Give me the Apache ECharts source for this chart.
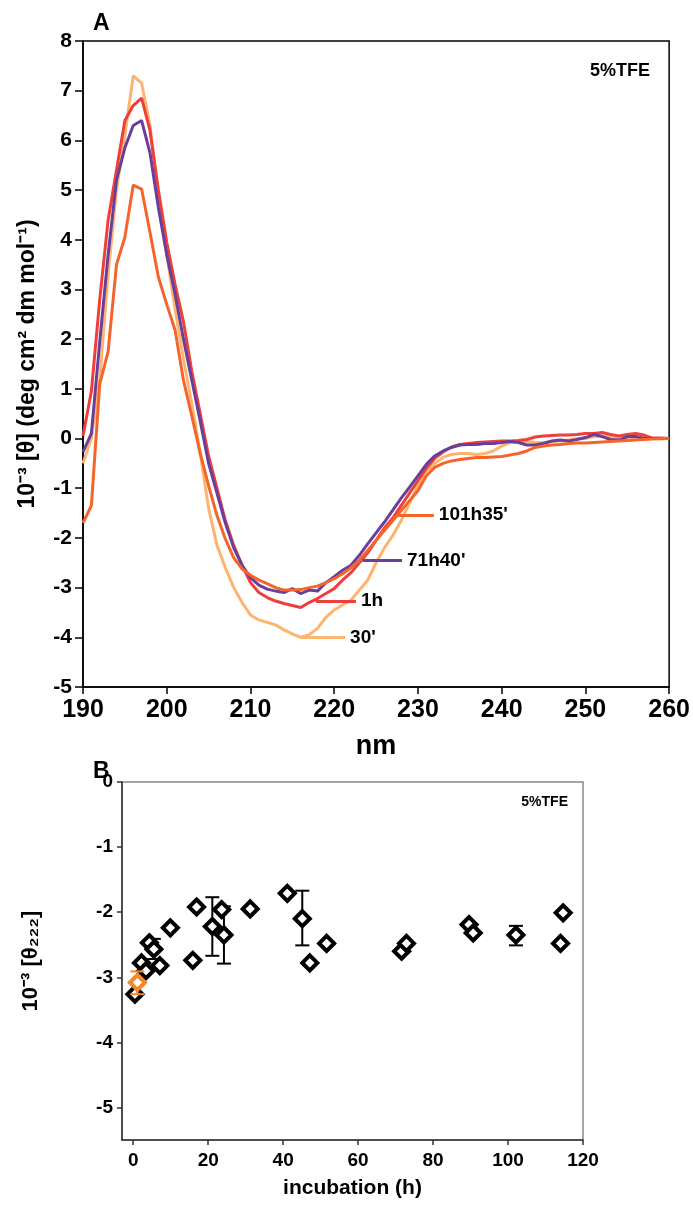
<!DOCTYPE html>
<html>
<head>
<meta charset="utf-8">
<script src="https://cdn.jsdelivr.net/npm/echarts@6/dist/echarts.min.js"></script>
<style>
html,body{margin:0;padding:0;background:#fff;}
#chart{width:693px;height:1205px;}
</style>
</head>
<body>
<div id="chart"></div>
<script>
// ---------- Panel A data ----------
const wavelengths = [190,191,192,193,194,195,196,197,198,199,200,201,202,203,204,205,206,207,208,209,
  210,211,212,213,214,215,216,217,218,219,220,221,222,223,224,225,226,227,228,229,
  230,231,232,233,234,235,236,237,238,239,240,241,242,243,244,245,246,247,248,249,
  250,251,252,253,254,255,256,257,258,259,260];

const cd30min = [-0.5,0.0,1.2,3.3,5.0,6.1,7.3,7.15,6.3,4.9,3.7,2.6,1.6,0.7,-0.3,-1.4,-2.15,-2.6,-3.0,-3.3,
  -3.55,-3.65,-3.7,-3.75,-3.85,-3.93,-4.0,-3.95,-3.82,-3.6,-3.45,-3.35,-3.25,-3.05,-2.85,-2.5,-2.2,-1.95,-1.65,-1.3,
  -0.95,-0.65,-0.5,-0.38,-0.32,-0.3,-0.3,-0.32,-0.3,-0.25,-0.15,-0.08,-0.05,-0.06,-0.08,-0.08,-0.06,-0.05,-0.03,0.0,
  0.0,0.04,0.05,0.03,0.0,-0.02,0.0,0.02,0.0,-0.01,0.0];

const cd1h = [0.05,0.95,2.8,4.4,5.4,6.4,6.7,6.85,6.2,5.0,3.95,3.1,2.35,1.35,0.5,-0.35,-1.0,-1.65,-2.15,-2.55,
  -2.9,-3.1,-3.2,-3.27,-3.32,-3.36,-3.4,-3.3,-3.22,-3.12,-3.02,-2.85,-2.7,-2.5,-2.3,-2.05,-1.8,-1.6,-1.35,-1.1,
  -0.85,-0.6,-0.4,-0.27,-0.17,-0.12,-0.1,-0.08,-0.07,-0.06,-0.05,-0.05,-0.04,-0.02,0.03,0.05,0.06,0.07,0.07,0.08,
  0.1,0.1,0.12,0.08,0.05,0.08,0.1,0.07,0.01,0.01,0.0];

const cd71h40 = [-0.27,0.1,1.95,3.7,5.2,5.85,6.3,6.4,5.75,4.65,3.7,2.9,2.0,1.17,0.35,-0.5,-1.1,-1.7,-2.2,-2.55,
  -2.8,-2.95,-3.03,-3.07,-3.1,-3.02,-3.12,-3.05,-3.07,-2.9,-2.78,-2.65,-2.55,-2.35,-2.12,-1.9,-1.68,-1.44,-1.2,-0.98,
  -0.75,-0.52,-0.35,-0.25,-0.18,-0.13,-0.12,-0.12,-0.1,-0.1,-0.08,-0.06,-0.08,-0.13,-0.13,-0.1,-0.05,-0.03,-0.05,-0.02,
  0.02,0.08,0.04,-0.02,-0.03,0.04,0.04,0.0,0.0,0.0,0.0];

const cd101h35 = [-1.7,-1.35,1.1,1.75,3.5,4.05,5.1,5.02,4.15,3.25,2.7,2.18,1.17,0.45,-0.3,-0.95,-1.55,-2.02,-2.4,-2.62,
  -2.75,-2.85,-2.92,-3.0,-3.05,-3.05,-3.04,-3.0,-2.97,-2.9,-2.82,-2.72,-2.6,-2.45,-2.25,-2.05,-1.85,-1.65,-1.45,-1.25,
  -1.05,-0.75,-0.58,-0.5,-0.45,-0.42,-0.4,-0.38,-0.38,-0.37,-0.36,-0.33,-0.3,-0.25,-0.18,-0.15,-0.13,-0.12,-0.1,-0.09,
  -0.09,-0.08,-0.07,-0.06,-0.05,-0.04,-0.03,-0.02,-0.01,0.0,0.0];

const seriesNames = ["30'", "1h", "71h40'", "101h35'"];
const xTicksA = [190,200,210,220,230,240,250,260];
const yTicksA = [-5,-4,-3,-2,-1,0,1,2,3,4,5,6,7,8];

// ---------- Panel B data ----------
const incubationHours = [0.45,2.2,3.4,4.3,5.5,7.1,9.9,15.9,16.9,21.1,23.6,24.2,31.2,41.1,45.1,47.1,51.6,71.6,72.9,89.6,90.7,102.1,114.7,114.0];
const theta222 = [-3.26,-2.78,-2.9,-2.47,-2.57,-2.82,-2.24,-2.74,-1.92,-2.22,-1.96,-2.35,-1.95,-1.71,-2.1,-2.78,-2.48,-2.6,-2.48,-2.19,-2.32,-2.35,-2.01,-2.48];
const errHours = [5.5,21.1,24.2,45.1,102.1];
const errLow  = [-2.72,-2.67,-2.79,-2.51,-2.51];
const errHigh = [-2.41,-1.77,-1.91,-1.67,-2.21];
const highlightHours = [1.1];
const highlightTheta = [-3.08];
const highlightLow = [-3.26];
const highlightHigh = [-2.91];
const xTicksB = [0,20,40,60,80,100,120];
const yTicksB = [0,-1,-2,-3,-4,-5];

// ---------- styling ----------
const FONT = "'Liberation Sans', Arial, Helvetica, sans-serif";
const colors = ['#FDB46F', '#EE3F3B', '#6A3E9B', '#F5652B'];
const leaders = [ // [x1, x2, y] in data units, for curve labels
  [216.0, 221.3, -4.0],
  [217.8, 222.6, -3.27],
  [223.4, 228.1, -2.45],
  [227.4, 231.9, -1.54]
];
const curves = [cd30min, cd1h, cd71h40, cd101h35];

const lineSeries = curves.map((arr, i) => ({
  name: seriesNames[i],
  type: 'line',
  xAxisIndex: 0, yAxisIndex: 0,
  data: wavelengths.map((w, k) => [w, arr[k]]),
  showSymbol: false,
  symbol: 'none',
  smooth: false,
  lineStyle: { color: colors[i], width: 3 },
  z: 2 + i,
  animation: false,
  markLine: {
    silent: true,
    symbol: 'none',
    animation: false,
    lineStyle: { color: colors[i], width: 3, type: 'solid' },
    label: {
      show: true, position: 'end', formatter: seriesNames[i], distance: 5,
      color: '#000', fontWeight: 'bold', fontSize: 19, fontFamily: FONT
    },
    data: [[{ coord: [leaders[i][0], leaders[i][2]] }, { coord: [leaders[i][1], leaders[i][2]] }]]
  }
}));

function errRender(color) {
  return function (params, api) {
    const x = api.value(0), lo = api.value(1), hi = api.value(2);
    const p1 = api.coord([x, lo]), p2 = api.coord([x, hi]);
    const w = 7;
    const st = { stroke: color, lineWidth: 2 };
    return {
      type: 'group', children: [
        { type: 'line', shape: { x1: p1[0], y1: p1[1], x2: p2[0], y2: p2[1] }, style: st },
        { type: 'line', shape: { x1: p1[0] - w, y1: p1[1], x2: p1[0] + w, y2: p1[1] }, style: st },
        { type: 'line', shape: { x1: p2[0] - w, y1: p2[1], x2: p2[0] + w, y2: p2[1] }, style: st }
      ]
    };
  };
}

const option = {
  backgroundColor: '#fff',
  animation: false,
  title: [
    { text: 'A', left: 88, top: 7, textStyle: { fontFamily: FONT, fontWeight: 'bold', fontSize: 23, color: '#000' } },
    { text: '5%TFE', right: 38, top: 57, textStyle: { fontFamily: FONT, fontWeight: 'bold', fontSize: 18, color: '#000' } },
    { text: 'B', left: 88, top: 755, textStyle: { fontFamily: FONT, fontWeight: 'bold', fontSize: 23, color: '#000' } },
    { text: '5%TFE', right: 120, top: 790, textStyle: { fontFamily: FONT, fontWeight: 'bold', fontSize: 14, color: '#000' } }
  ],
  grid: [
    { left: 83, top: 41, width: 588, height: 646, show: true, borderColor: '#000', borderWidth: 1.5, backgroundColor: 'transparent' },
    { left: 122, top: 782, width: 461, height: 358, show: true, borderColor: '#888', borderWidth: 1.5, backgroundColor: 'transparent' }
  ],
  xAxis: [
    {
      gridIndex: 0, type: 'value', min: 190, max: 260, interval: 10,
      name: 'nm', nameLocation: 'middle', nameGap: 46,
      nameTextStyle: { fontFamily: FONT, fontWeight: 'bold', fontSize: 27, color: '#000' },
      axisLine: { show: true, onZero: false, lineStyle: { color: '#000', width: 1.5 } },
      axisTick: { show: true, length: 7, lineStyle: { color: '#000', width: 1.5 }, customValues: xTicksA },
      axisLabel: { color: '#000', fontFamily: FONT, fontWeight: 'bold', fontSize: 25, margin: 11, customValues: xTicksA },
      splitLine: { show: false }
    },
    {
      gridIndex: 1, type: 'value', min: -3, max: 120,
      name: 'incubation (h)', nameLocation: 'middle', nameGap: 38,
      nameTextStyle: { fontFamily: FONT, fontWeight: 'bold', fontSize: 21, color: '#000' },
      axisLine: { show: true, onZero: false, lineStyle: { color: '#333', width: 1.5 } },
      axisTick: { show: true, length: 5, lineStyle: { color: '#333', width: 1.5 }, customValues: xTicksB },
      axisLabel: { color: '#000', fontFamily: FONT, fontWeight: 'bold', fontSize: 19, margin: 11, customValues: xTicksB },
      splitLine: { show: false }
    }
  ],
  yAxis: [
    {
      gridIndex: 0, type: 'value', min: -5, max: 8, interval: 1,
      name: '10⁻³ [θ] (deg cm² dm mol⁻¹)', nameLocation: 'middle', nameGap: 44, nameRotate: 90,
      nameTextStyle: { fontFamily: FONT, fontWeight: 'bold', fontSize: 23, color: '#000' },
      axisLine: { show: true, onZero: false, lineStyle: { color: '#000', width: 1.5 } },
      axisTick: { show: true, length: 8, lineStyle: { color: '#000', width: 1.5 }, customValues: yTicksA },
      axisLabel: { color: '#000', fontFamily: FONT, fontWeight: 'bold', fontSize: 21, margin: 11, customValues: yTicksA },
      splitLine: { show: false }
    },
    {
      gridIndex: 1, type: 'value', min: -5.5, max: 0,
      name: '10⁻³ [θ₂₂₂]', nameLocation: 'middle', nameGap: 80, nameRotate: 90,
      nameTextStyle: { fontFamily: FONT, fontWeight: 'bold', fontSize: 22, color: '#000' },
      axisLine: { show: true, onZero: false, lineStyle: { color: '#333', width: 1.5 } },
      axisTick: { show: true, length: 5, lineStyle: { color: '#333', width: 1.5 }, customValues: yTicksB },
      axisLabel: { color: '#000', fontFamily: FONT, fontWeight: 'bold', fontSize: 19, margin: 9, customValues: yTicksB },
      splitLine: { show: false }
    }
  ],
  series: lineSeries.concat([
    {
      type: 'custom', xAxisIndex: 1, yAxisIndex: 1,
      renderItem: errRender('#000'),
      data: errHours.map((h, i) => [h, errLow[i], errHigh[i]]),
      z: 2, silent: true, animation: false
    },
    {
      type: 'custom', xAxisIndex: 1, yAxisIndex: 1,
      renderItem: errRender('#F5862A'),
      data: highlightHours.map((h, i) => [h, highlightLow[i], highlightHigh[i]]),
      z: 4, silent: true, animation: false
    },
    {
      type: 'scatter', xAxisIndex: 1, yAxisIndex: 1,
      symbol: 'diamond', symbolSize: 15,
      itemStyle: { color: '#fff', borderColor: '#000', borderWidth: 4, opacity: 1 },
      data: incubationHours.map((h, i) => [h, theta222[i]]),
      z: 3, animation: false
    },
    {
      type: 'scatter', xAxisIndex: 1, yAxisIndex: 1,
      symbol: 'diamond', symbolSize: 15,
      itemStyle: { color: '#fff', borderColor: '#F5862A', borderWidth: 4, opacity: 1 },
      data: highlightHours.map((h, i) => [h, highlightTheta[i]]),
      z: 5, animation: false
    }
  ])
};

const chart = echarts.init(document.getElementById('chart'), null, { renderer: 'canvas' });
chart.setOption(option);
</script>
</body>
</html>
